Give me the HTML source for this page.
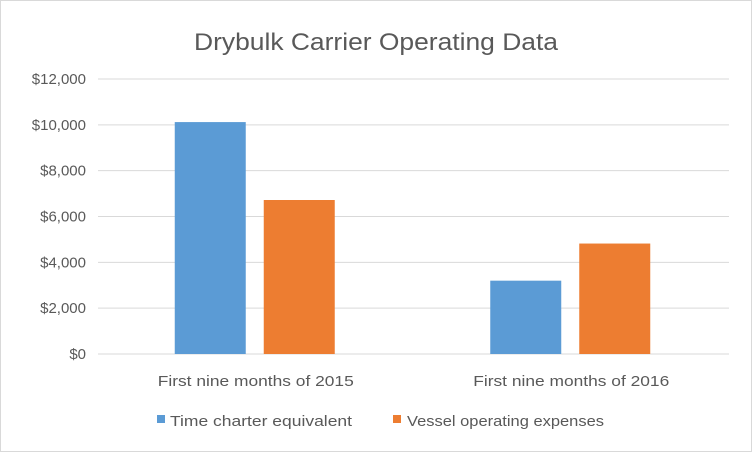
<!DOCTYPE html>
<html><head><meta charset="utf-8"><style>
body{margin:0;background:#fff;}
svg{display:block;font-family:"Liberation Sans",Calibri,sans-serif;}
</style></head><body>
<svg id="chart" width="752" height="452">
<rect x="0.5" y="0.5" width="751" height="451" fill="#fff" stroke="#d9d9d9"/>
<text x="376" y="50" text-anchor="middle" font-size="24" fill="#595959" textLength="364" lengthAdjust="spacingAndGlyphs">Drybulk Carrier Operating Data</text>
<g id="grid"></g><g id="bars"></g><g id="xlabels"></g>
<g>
<rect x="157" y="415" width="8" height="8" fill="#5b9bd5"/>
<text x="170" y="426" font-size="15" fill="#595959" textLength="182" lengthAdjust="spacingAndGlyphs">Time charter equivalent</text>
<rect x="393" y="415" width="8" height="8" fill="#ed7d31"/>
<text x="407" y="426" font-size="15" fill="#595959" textLength="197" lengthAdjust="spacingAndGlyphs">Vessel operating expenses</text>
</g>
</svg>
<script>
const categories=["First nine months of 2015","First nine months of 2016"];
const tceValues=[10120,3200];
const opexValues=[6720,4820];
const yTicks=[0,2000,4000,6000,8000,10000,12000];
const yTickLabels=["$0","$2,000","$4,000","$6,000","$8,000","$10,000","$12,000"];
const NS="http://www.w3.org/2000/svg";
const x0=98,x1=729,yBase=354,yTop=79,yMax=12000;
const y=v=>yBase-(v/yMax)*(yBase-yTop);
const catW=(x1-x0)/categories.length;
const grid=document.getElementById('grid'),bars=document.getElementById('bars'),xl=document.getElementById('xlabels');
function mk(tag,attrs,parent){const e=document.createElementNS(NS,tag);for(const k in attrs)e.setAttribute(k,attrs[k]);parent.appendChild(e);return e;}
yTicks.forEach((t,i)=>{
  const l=mk('line',{x1:x0,x2:x1,y1:y(t),y2:y(t),stroke:'#d9d9d9','stroke-width':1},grid);
  
  
  const tx=mk('text',{x:86,y:y(t)+5,'text-anchor':'end','font-size':15,fill:'#595959'},grid);
  tx.textContent=yTickLabels[i];
  
  
});
const bw=71;
categories.forEach((c,i)=>{
  const cx=x0+catW*(i+0.5);
  const b1=mk('rect',{x:cx-81,y:y(tceValues[i]),width:bw,height:yBase-y(tceValues[i]),fill:'#5b9bd5'},bars);
  
  
  const b2=mk('rect',{x:cx+8,y:y(opexValues[i]),width:bw,height:yBase-y(opexValues[i]),fill:'#ed7d31'},bars);
  
  
  const t=mk('text',{x:cx,y:386,'text-anchor':'middle','font-size':15,fill:'#595959',textLength:196,lengthAdjust:'spacingAndGlyphs'},xl);
  t.textContent=c;
  
  
});
</script>
</body></html>
